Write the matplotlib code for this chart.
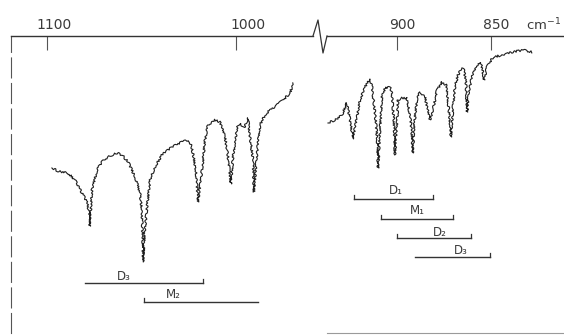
import matplotlib
matplotlib.use("Agg")
import matplotlib.pyplot as plt

# ---- data (wavenumber in cm^-1, transmission in arbitrary units) ----
left_wn = [1097.4, 1094.2, 1088.9, 1085.2, 1081.5, 1078.8, 1077.8, 1077.3, 1076.2, 1073.5,
           1070.4, 1065.6, 1063.0, 1060.3, 1057.1, 1053.4, 1050.8, 1049.7, 1049.2, 1048.2,
           1047.1, 1045.5, 1042.9, 1039.2, 1033.9, 1028.6, 1025.4, 1024.3, 1022.8, 1021.2,
           1020.1, 1018.0, 1016.4, 1014.8, 1011.1, 1008.5, 1005.8, 1004.2, 1002.7, 1001.6,
           999.5, 997.9, 995.8, 993.7, 992.6, 991.0, 990.5, 988.9, 987.3, 984.7,
           982.0, 978.3, 975.1, 971.4, 969.8]
left_T = [132, 129, 127, 120, 107, 98, 88, 74, 110, 130,
          140, 145, 147, 145, 138, 123, 107, 87, 38, 70,
          93, 120, 133, 145, 153, 158, 160, 158, 147, 130,
          98, 130, 160, 175, 180, 178, 163, 143, 116, 143,
          172, 177, 172, 182, 163, 140, 108, 147, 175, 185,
          190, 195, 200, 207, 217]

right_wn = [936.7, 933.0, 929.3, 926.6, 925.0, 923.4, 921.3, 919.7, 917.0, 914.4,
            913.3, 911.7, 910.6, 910.1, 909.0, 908.0, 906.4, 903.7, 902.7, 901.6,
            901.1, 900.0, 899.5, 897.3, 894.7, 894.2, 892.6, 891.5, 891.0, 889.4,
            887.8, 885.1, 883.5, 882.5, 880.9, 878.7, 876.1, 873.9, 872.9, 871.8,
            871.3, 870.2, 869.2, 867.6, 865.4, 864.4, 863.3, 862.8, 861.7, 860.1,
            858.0, 855.9, 854.8, 853.7, 852.1, 848.9, 843.6, 838.3, 833.0, 828.2]
right_T = [177, 180, 185, 197, 180, 161, 183, 200, 213, 221,
           213, 187, 163, 132, 170, 203, 212, 213, 207, 177,
           145, 173, 200, 202, 202, 197, 177, 147, 173, 200,
           208, 203, 188, 180, 190, 210, 218, 215, 200, 177,
           163, 193, 213, 225, 232, 230, 217, 188, 210, 223,
           233, 238, 233, 220, 233, 243, 245, 248, 250, 248]

left_ticks = [1100, 1000]
right_ticks = [900, 850]
left_ticklabels = ["1100", "1000"]
right_ticklabels = ["900", "850"]
unit_label = "cm$^{-1}$"

# assignment bars
left_bars_label = ["D₃", "M₂"]
left_bars_start = [1079.9, 1048.7]
left_bars_end = [1017.5, 988.4]
left_bars_level = [17, -2]
left_bars_lx = [1059.4, 1033.3]
left_bars_ly = [24, 6]
left_bars_ticks = [(False, True), (True, False)]

right_bars_label = ["D₁", "M₁", "D₂", "D₃"]
right_bars_start = [922.9, 908.5, 900.0, 890.4]
right_bars_end = [880.9, 870.2, 860.6, 850.5]
right_bars_level = [101, 81, 62, 43]
right_bars_lx = [900.5, 889.4, 877.1, 866.0]
right_bars_ly = [109, 89, 68, 49]
right_bars_ticks = [(True, True), (True, True), (True, True), (False, True)]

# ---- figure ----
W, H = 564, 335
fig = plt.figure(figsize=(W / 100, H / 100), dpi=100)
fig.patch.set_facecolor("white")

top_px, bot_px = 36, 333
ylim = (-33, 264)

# calibration of the broken wavenumber axis (pixels per cm^-1)
kL, x0L, w0L = 1.89, 47, 1100
kR, x0R, w0R = 1.88, 397, 900

def px2wn(x, k, x0, w0):
    return w0 - (x - x0) / k

axL = fig.add_axes([11 / W, (H - bot_px) / H, (313 - 11) / W, (bot_px - top_px) / H])
axR = fig.add_axes([327 / W, (H - bot_px) / H, (W - 327) / W, (bot_px - top_px) / H])
axL.set_xlim(px2wn(11, kL, x0L, w0L), px2wn(313, kL, x0L, w0L))
axR.set_xlim(px2wn(327, kR, x0R, w0R), px2wn(W, kR, x0R, w0R))

ink = "#1e1e1e"
for ax in (axL, axR):
    ax.set_ylim(*ylim)
    ax.set_facecolor("none")
    ax.set_yticks([])
    ax.spines["right"].set_visible(False)
    ax.spines["top"].set_color("#333333")
    ax.spines["top"].set_linewidth(1.0)
    ax.tick_params(axis="x", which="both", top=True, bottom=False, labeltop=False,
                   labelbottom=False, direction="in", length=10, width=0.8, color="#555555")

axL.spines["bottom"].set_visible(False)
axL.spines["left"].set_color("#555555")
axL.spines["left"].set_linewidth(0.8)
axL.spines["left"].set_linestyle((0, (18, 5)))
axR.spines["left"].set_visible(False)
axR.spines["bottom"].set_color("#9a9a9a")
axR.spines["bottom"].set_linewidth(0.8)

axL.set_xticks(left_ticks)
axR.set_xticks(right_ticks)

font = "DejaVu Sans"
label_dx = [5, 9]
for t, lab, dx in zip(left_ticks, left_ticklabels, label_dx):
    axL.annotate(lab, xy=(t, 1), xycoords=("data", "axes fraction"), xytext=(dx, 3),
                 textcoords="offset points", ha="center", va="bottom", fontsize=10,
                 color="#3a3a3a", family=font)
for t, lab in zip(right_ticks, right_ticklabels):
    axR.annotate(lab, xy=(t, 1), xycoords=("data", "axes fraction"), xytext=(4, 3),
                 textcoords="offset points", ha="center", va="bottom", fontsize=10,
                 color="#3a3a3a", family=font)
fig.text(561 / W, (H - 33) / H, unit_label, fontsize=9.5, color="#3a3a3a",
         ha="right", va="bottom", family=font)

# spectra
for ax, xs, ys in ((axL, left_wn, left_T), (axR, right_wn, right_T)):
    ln, = ax.plot(xs, ys, color=ink, lw=0.8, clip_on=False)
    ln.set_sketch_params(scale=1.0, length=4, randomness=4)

# assignment bars
def draw_bars(ax, labels, starts, ends, levels, lxs, lys, ticks):
    for lab, s, e, lv, lx, ly, (tl, tr) in zip(labels, starts, ends, levels, lxs, lys, ticks):
        ax.plot([s, e], [lv, lv], color="#333333", lw=1.0)
        if tl:
            ax.plot([s, s], [lv, lv + 4], color="#333333", lw=0.9)
        if tr:
            ax.plot([e, e], [lv, lv + 4], color="#333333", lw=0.9)
        ax.text(lx, ly, lab, ha="center", va="center", fontsize=8.5, color="#3a3a3a",
                family=font)

draw_bars(axL, left_bars_label, left_bars_start, left_bars_end, left_bars_level,
          left_bars_lx, left_bars_ly, left_bars_ticks)
draw_bars(axR, right_bars_label, right_bars_start, right_bars_end, right_bars_level,
          right_bars_lx, right_bars_ly, right_bars_ticks)

# axis-break zigzag drawn in pixel space
ov = fig.add_axes([0, 0, 1, 1])
ov.set_xlim(0, W)
ov.set_ylim(H, 0)
ov.axis("off")
ov.plot([313, 318, 323, 327], [top_px, 20, 53, top_px], color="#333333", lw=0.9)

fig.savefig("out.png", dpi=100, facecolor="white")
